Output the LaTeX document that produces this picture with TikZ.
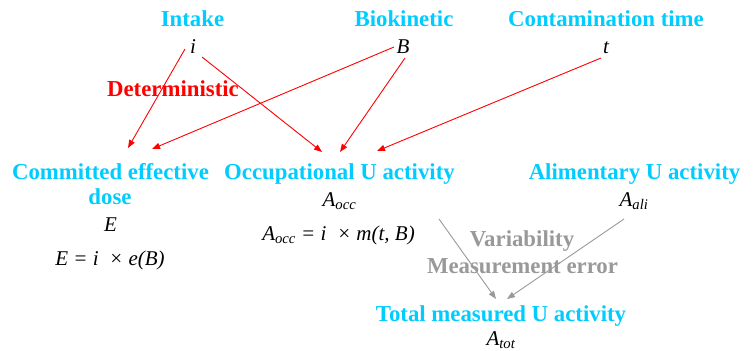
\documentclass[tikz,border=0pt]{standalone}
\usepackage{fontspec}
\setmainfont{Liberation Serif}
\usetikzlibrary{arrows.meta}
\definecolor{lblcyan}{RGB}{0,204,255}
\definecolor{lblred}{RGB}{255,0,0}
\definecolor{lblgray}{RGB}{153,153,153}
\tikzset{
  lbl/.style={anchor=base,inner sep=0pt,font=\fontsize{22.8}{26}\selectfont\bfseries,text=lblcyan},
  redlbl/.style={lbl,text=lblred},
  graylbl/.style={lbl,text=lblgray},
  mth/.style={anchor=base,inner sep=0pt,font=\fontsize{21}{24}\selectfont\itshape,text=black},
  redarr/.style={draw=lblred,line width=0.9pt,-{Triangle[length=8pt,width=6pt]}},
  grayarr/.style={draw=lblgray,line width=0.9pt,-{Triangle[length=8pt,width=6pt]}},
}
\begin{document}
\begin{tikzpicture}[x=1pt,y=-1pt]
\useasboundingbox (0,0) rectangle (756,351);
% top row
\node[lbl] (intake) at (192.5,26.5) {Intake};
\node[mth] (i) at (193,53) {i};
\node[lbl] (bio) at (404,26.5) {Biokinetic};
\node[mth] (B) at (403,53) {B};
\node[lbl] (cont) at (606,26.5) {Contamination time};
\node[mth] (t) at (606,53) {t};
\node[redlbl] (det) at (173,96.5) {Deterministic};
% middle row
\node[lbl] (ced1) at (110.5,179) {Committed effective};
\node[lbl] (ced2) at (110,204) {dose};
\node[mth] (E) at (110.5,231) {E};
\node[mth] (Eeq) at (110,265) {E = i ~× e(B)};
\node[lbl] (occ) at (339.5,179) {Occupational U activity};
\node[mth] (Aocc) at (339.5,206) {A\textsubscript{occ}};
\node[mth] (Aocceq) at (338.5,240) {A\textsubscript{occ} = i ~× m(t, B)};
\node[lbl] (ali) at (634.5,179) {Alimentary U activity};
\node[mth] (Aali) at (634,206) {A\textsubscript{ali}};
% bottom
\node[graylbl] (var) at (522,246.5) {Variability};
\node[graylbl] (meas) at (522.5,273) {Measurement error};
\node[lbl] (tot) at (501,321.5) {Total measured U activity};
\node[mth] (Atot) at (501,345.5) {A\textsubscript{tot}};
% connector end points
\coordinate (i1) at (185,49);
\coordinate (i2) at (202,57);
\coordinate (B1) at (394,47);
\coordinate (B2) at (405,58);
\coordinate (t1) at (601,58);
\coordinate (ced1a) at (128,148);
\coordinate (ced1b) at (152,149);
\coordinate (occa) at (322,152);
\coordinate (occb) at (340,152);
\coordinate (occc) at (377,151);
\coordinate (occs) at (439,219);
\coordinate (alis) at (624,219);
\coordinate (tota) at (496,299);
\coordinate (totb) at (507,299);
% connectors
\draw[redarr] (i1) -- (ced1a);
\draw[redarr] (i2) -- (occa);
\draw[redarr] (B1) -- (ced1b);
\draw[redarr] (B2) -- (occb);
\draw[redarr] (t1) -- (occc);
\draw[grayarr] (occs) -- (tota);
\draw[grayarr] (alis) -- (totb);
\end{tikzpicture}
\end{document}
